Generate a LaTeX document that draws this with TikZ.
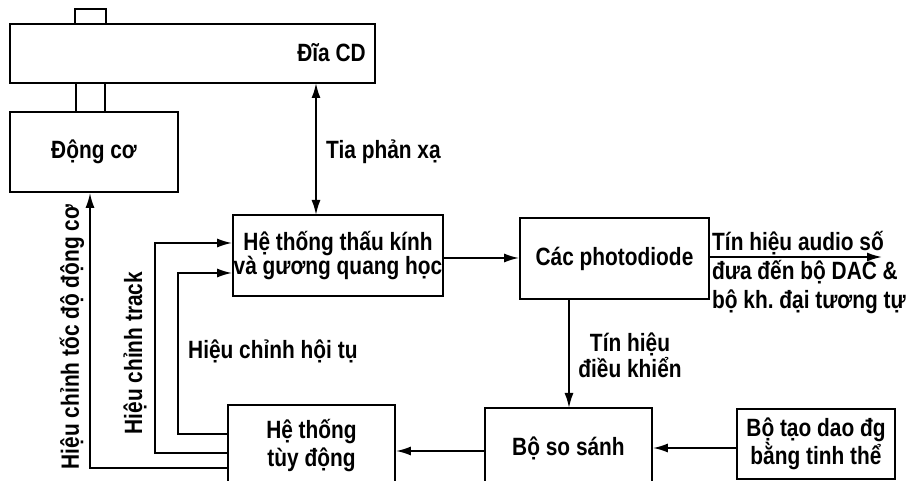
\documentclass[tikz,border=0pt]{standalone}
\usepackage{fontspec}
\setmainfont{Liberation Sans}[FakeStretch=0.835]
\usetikzlibrary{arrows.meta}
\begin{document}
\begin{tikzpicture}[x=1pt,y=-1pt,
  every node/.style={font=\fontsize{25}{26}\selectfont\bfseries\frenchspacing, inner sep=0pt},
  box/.style={draw, line width=1.8pt, rectangle, align=center},
  conn/.style={line width=1.8pt, -{Latex[length=15pt,width=9pt]}},
  plain/.style={line width=1.8pt}
]
\useasboundingbox (0,0) rectangle (906,481);
\clip (0,0) rectangle (906,481);
% CD disc and spindle
\node[box, minimum width=365pt, minimum height=59pt] (cd) at (192.5,53.5) {};
\node[anchor=east] (cdlabel) at (366,53) {Đĩa CD};
\node[box, minimum width=31pt, minimum height=15pt] (spinA) at (90.5,16.5) {};
\node[box, minimum width=29pt, minimum height=29pt] (spinB) at (90.5,97.5) {};
% motor
\node[box, minimum width=168pt, minimum height=80pt] (motor) at (94,152) {Động cơ};
% lens
\node[box, minimum width=210pt, minimum height=81pt, font=\fontsize{25}{24}\selectfont\bfseries] (lens) at (338,255.5) {Hệ thống thấu kính\\và gương quang học};
% photodiodes
\node[box, minimum width=189pt, minimum height=81pt] (photo) at (614.5,258.5) {Các photodiode};
% comparator
\node[box, minimum width=167pt, minimum height=80pt] (cmp) at (568.5,448) {Bộ so sánh};
% servo
\node[box, minimum width=167pt, minimum height=82pt, font=\fontsize{25}{28}\selectfont\bfseries] (servo) at (311.5,446) {Hệ thống\\tùy động};
% oscillator
\node[box, minimum width=158pt, minimum height=70pt, font=\fontsize{25}{28}\selectfont\bfseries] (osc) at (816,444) {Bộ tạo dao đg\\bằng tinh thể};
% coordinates
\coordinate (out) at (882,257);
\coordinate (m1) at (90,468);
\coordinate (t1) at (155,453);
\coordinate (t2) at (155,243);
\coordinate (f1) at (178,434);
\coordinate (f2) at (178,273);
% connectors
\draw[line width=1.8pt, {Latex[length=15pt,width=9pt]}-{Latex[length=15pt,width=9pt]}] (316,83) -- (316,215);
\draw[conn] (lens.east |- 0,258) -- (photo.west |- 0,258);
\draw[conn] (photo.east |- out) -- (out);
\draw[conn] (569,299) -- (569,408);
\draw[conn] (osc.west |- 0,448) -- (cmp.east |- 0,448);
\draw[conn] (cmp.west |- 0,451) -- (servo.east |- 0,451);
\draw[conn] (servo.west |- m1) -- (m1) -- (motor.south -| m1);
\draw[conn] (servo.west |- t1) -- (t1) -- (t2) -- (lens.west |- t2);
\draw[conn] (servo.west |- f1) -- (f1) -- (f2) -- (lens.west |- f2);
% labels
\node[anchor=west] (tia) at (326,152) {Tia phản xạ};
\node[anchor=west, align=left, font=\fontsize{25}{29}\selectfont\bfseries\frenchspacing] (audio) at (712,273) {Tín hiệu audio số\\đưa đến bộ DAC \&\\bộ kh. đại tương tự};
\node[align=center, font=\fontsize{25}{26}\selectfont\bfseries] (ctl) at (630,355) {Tín hiệu\\điều khiển};
\node[anchor=west] (focus) at (188,351) {Hiệu chỉnh hội tụ};
\node[rotate=90] (speed) at (72,337) {Hiệu chỉnh tốc độ động cơ};
\node[rotate=90] (track) at (135,353) {Hiệu chỉnh track};
\end{tikzpicture}
\end{document}
